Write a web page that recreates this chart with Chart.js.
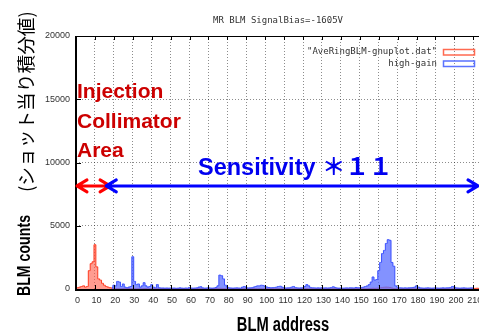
<!DOCTYPE html>
<html><head><meta charset="utf-8">
<script src="https://cdn.jsdelivr.net/npm/chart.js@4"></script>
<style>html,body{margin:0;padding:0;background:#fff;overflow:hidden}canvas{display:block}</style>
</head><body>
<canvas id="c" width="479" height="331"></canvas>
<script>
const chartTitle = 'MR BLM SignalBias=-1605V';
const seriesNames = ['"AveRingBLM-gnuplot.dat"', 'high-gain'];
const xTitle = 'BLM address';
const yTitleBold = 'BLM counts';
const yTitleJa = '(ショット当り積分値)';
const areaLines = ['Injection', 'Collimator', 'Area'];
const sensText = 'Sensitivity ＊１１';
const xTickRange = [0, 213, 10];
const yTickRange = [0, 20000, 5000];
const redArrowRange = [0, 18];
const blueArrowRange = [16, 213];
const arrowLevel = 8150;

const redStart = 0;
const redValues = [
 100,100,150,200,250,150,200,1450,2000,2150,
 3500,1750,800,700,450,300,200,150,100,80,
 50,40,40,30,30,40,30,30,40,30,
 30,30,20,30,30,20,30,30,20,30,
 30,20,30,30,20,30,30,20,30,30,
 20,30,30,20,30,30,20,30,30,20,
 30,30,20,30,30,20,30,30,20,30,
 30,20,30,30,40,50,60,50,40,30,
 30,20,30,30,20,30,30,20,30,30,
 20,30,30,20,30,30,20,30,30,20,
 30,30,20,30,30,20,30,30,20,30,
 30,20,30,30,20,30,30,20,30,30,
 20,30,30,20,30,30,20,30,30,20,
 30,30,20,30,30,20,30,30,20,30,
 30,20,30,30,20,30,30,20,30,30,
 20,30,30,30,30,40,50,60,50,60,
 80,100,120,140,150,140,120,80,40,30,
 30,20,30,30,20,30,30,20,30,30,
 20,30,30,20,30,30,20,30,30,20,
 30,30,20,30,30,20,30,30,20,30,
 30,20,30,30,20,30,30,20,30,30,
 40,50,60,50
];

const blueStart = 19;
const blueValues = [
 100,
 300,250,600,550,200,400,150,100,150,200,
 2550,600,350,400,150,250,500,250,150,200,
 350,150,100,350,100,80,80,70,80,70,
 80,70,80,60,70,90,70,60,80,70,
 120,80,70,80,90,150,180,90,70,80,
 100,80,70,80,120,250,1100,1050,800,300,
 150,90,80,70,80,90,80,70,150,200,
 120,80,90,100,150,200,250,250,300,280,
 200,150,120,100,110,120,150,200,220,150,
 100,80,90,100,150,200,120,90,80,90,
 100,200,350,250,120,100,90,80,90,80,
 100,80,90,80,90,120,180,120,80,70,
 80,70,80,90,80,100,90,80,120,100,
 100,120,150,200,250,350,550,950,700,750,
 1450,2100,2800,3050,3600,3900,3850,2100,1800,250,
 150,100,90,80,90,80,90,100,120,150,
 250,150,90,80,70,80,90,80,70,80,
 90,80,70,80,90,80,90,100,120,200,
 150,90,80,70,80,90,80,70,80,90,
 80
];

const redData = redValues.map((v, i) => ({x: redStart + i, y: v}));
const blueData = blueValues.map((v, i) => ({x: blueStart + i, y: v}));

function fitText(ctx, text, x, y, target, align) {
  const w = ctx.measureText(text).width;
  const s = target / w;
  ctx.save();
  ctx.translate(x, y);
  ctx.scale(s, 1);
  ctx.textAlign = align || 'left';
  ctx.fillText(text, 0, 0);
  ctx.restore();
}

function arrow(ctx, x1, x2, y, color) {
  ctx.save();
  ctx.strokeStyle = color;
  ctx.lineWidth = 3;
  ctx.lineCap = 'round';
  ctx.lineJoin = 'round';
  ctx.beginPath();
  ctx.moveTo(x1, y); ctx.lineTo(x2, y);
  ctx.moveTo(x1 + 10, y - 6); ctx.lineTo(x1, y); ctx.lineTo(x1 + 10, y + 6);
  ctx.moveTo(x2 - 10, y - 6); ctx.lineTo(x2, y); ctx.lineTo(x2 - 10, y + 6);
  ctx.stroke();
  ctx.restore();
}

const overlay = {
  id: 'overlay',
  beforeDraw(chart) {
    const ctx = chart.ctx;
    ctx.save(); ctx.fillStyle = '#fff'; ctx.fillRect(0, 0, chart.width, chart.height); ctx.restore();
  },
  afterDatasetsDraw(chart) {
    const ctx = chart.ctx;
    const {left, top, bottom} = chart.chartArea;
    const xs = chart.scales.x, ys = chart.scales.y;
    ctx.save();
    // borders
    ctx.strokeStyle = '#000';
    ctx.lineWidth = 1;
    ctx.beginPath(); ctx.moveTo(left, top + 0.5); ctx.lineTo(chart.width, top + 0.5); ctx.stroke();
    ctx.lineWidth = 2;
    ctx.beginPath(); ctx.moveTo(left, top); ctx.lineTo(left, bottom + 2); ctx.stroke();
    ctx.beginPath(); ctx.moveTo(left - 1, bottom + 1); ctx.lineTo(chart.width, bottom + 1); ctx.stroke();
    // tick marks
    ctx.lineWidth = 1;
    ctx.beginPath();
    xs.ticks.forEach(t => {
      const p = Math.round(xs.getPixelForValue(t.value)) + 0.5;
      ctx.moveTo(p, top); ctx.lineTo(p, top + 4);
      ctx.moveTo(p, bottom); ctx.lineTo(p, bottom - 4);
    });
    ys.ticks.forEach(t => {
      const p = Math.round(ys.getPixelForValue(t.value)) + 0.5;
      ctx.moveTo(left, p); ctx.lineTo(left + 5, p);
    });
    ctx.stroke();

    // title
    ctx.fillStyle = '#333';
    ctx.font = '9px "DejaVu Sans Mono"';
    ctx.textBaseline = 'middle';
    ctx.textAlign = 'center';
    ctx.fillText(chartTitle, 278, 21);
    // legend
    ctx.textAlign = 'right';
    ctx.fillText(seriesNames[0], 437, 52);
    ctx.fillText(seriesNames[1], 437, 63.5);
    ctx.lineWidth = 1.5;
    ctx.strokeStyle = '#ff6a50';
    ctx.strokeRect(443.5, 49.5, 31, 5.5);
    ctx.strokeStyle = '#5a72ff';
    ctx.strokeRect(443.5, 61, 31, 5.5);

    // arrows
    const ay = ys.getPixelForValue(arrowLevel);
    arrow(ctx, xs.getPixelForValue(redArrowRange[0]) + 1, xs.getPixelForValue(redArrowRange[1]), ay, '#ff0000');
    arrow(ctx, xs.getPixelForValue(blueArrowRange[0]), xs.getPixelForValue(blueArrowRange[1]) - 1, ay, '#0000ff');

    // annotations
    ctx.textBaseline = 'alphabetic';
    ctx.textAlign = 'left';
    ctx.fillStyle = '#cc0000';
    ctx.font = 'bold 21px "Liberation Sans", Arial, sans-serif';
    ctx.fillText(areaLines[0], 77, 98);
    ctx.fillText(areaLines[1], 77, 127.5);
    ctx.fillText(areaLines[2], 77, 156.5);
    ctx.fillStyle = '#0000f0';
    ctx.font = 'bold 23.5px "Liberation Sans", "Noto Sans CJK JP", sans-serif';
    ctx.fillText(sensText, 198, 175);

    // axis titles
    ctx.fillStyle = '#000';
    ctx.font = 'bold 19.5px "Liberation Sans", Arial, sans-serif';
    fitText(ctx, xTitle, 283, 330.5, 92.5, 'center');
    ctx.save();
    ctx.translate(29.5, 296);
    ctx.rotate(-Math.PI / 2);
    ctx.font = 'bold 18px "Liberation Sans", Arial, sans-serif';
    fitText(ctx, yTitleBold, 0, 0, 81, 'left');
    ctx.restore();
    ctx.save();
    ctx.translate(32.5, 192);
    ctx.rotate(-Math.PI / 2);
    ctx.font = '18.7px "Noto Sans CJK JP", sans-serif';
    ctx.textAlign = 'left';
    ctx.fillText(yTitleJa, 0, 0);
    ctx.restore();
    ctx.restore();
  }
};

new Chart(document.getElementById('c'), {
  type: 'line',
  data: {
    datasets: [
      {
        label: seriesNames[0], data: redData, order: 1,
        stepped: 'middle', fill: 'origin', pointRadius: 0, borderWidth: 1,
        borderColor: '#ff3a20', backgroundColor: 'rgba(255,90,70,0.6)'
      },
      {
        label: seriesNames[1], data: blueData, order: 0,
        stepped: 'middle', fill: 'origin', pointRadius: 0, borderWidth: 1,
        borderColor: '#3a50ff', backgroundColor: 'rgba(90,110,255,0.75)'
      }
    ]
  },
  options: {
    responsive: false,
    animation: false,
    devicePixelRatio: 1,
    layout: {padding: {top: 36, left: 0, right: 0, bottom: 0}},
    plugins: {legend: {display: false}, tooltip: {enabled: false}, title: {display: false}},
    scales: {
      x: {
        type: 'linear', min: xTickRange[0], max: xTickRange[1],
        ticks: {stepSize: xTickRange[2], includeBounds: false, padding: 6, labelOffset: 1.5,
                color: '#333', font: {family: 'Liberation Sans', size: 9}, maxRotation: 0, autoSkip: false,
                callback: v => String(v)},
        grid: {color: 'rgba(0,0,0,0.45)', lineWidth: 1, drawTicks: false},
        border: {display: false, dash: [1, 2]},
        afterFit: s => { s.height = 42; s.paddingLeft = 0; s.paddingRight = 0; }
      },
      y: {
        min: yTickRange[0], max: yTickRange[1],
        ticks: {stepSize: yTickRange[2], padding: 6, color: '#333', font: {family: 'Liberation Sans', size: 9},
                callback: v => String(v)},
        grid: {color: 'rgba(0,0,0,0.45)', lineWidth: 1, drawTicks: false},
        border: {display: false, dash: [1, 2]},
        afterFit: s => { s.width = 76; s.paddingTop = 0; s.paddingBottom = 0; }
      }
    }
  },
  plugins: [overlay]
});
</script>
</body></html>
